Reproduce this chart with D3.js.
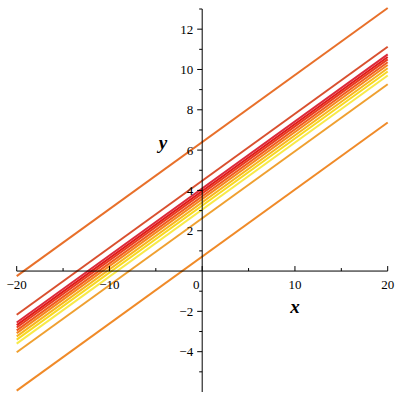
<!DOCTYPE html>
<html><head><meta charset="utf-8">
<script src="https://cdn.jsdelivr.net/npm/d3@7"></script>
<style>body{margin:0;background:#fff}svg{display:block}</style>
</head><body>
<svg id="c" width="400" height="400"></svg>
<script>
const intercepts = [6.4, 4.48, 4.1, 3.97, 3.85, 3.71, 3.57, 3.41, 3.25, 3.05, 2.62, 0.72];
const slopes = [0.3325, 0.3325, 0.3325, 0.3325, 0.3325, 0.3325, 0.3325, 0.3325, 0.3325, 0.3325, 0.3325, 0.3325];
const colors = ["#e8702a", "#d9502f", "#dc2a3a", "#e01a1a", "#e83a1e", "#f05a1e", "#f5851e", "#f8b41e", "#f8d820", "#f8ea48", "#f0a030", "#f08a28"];
const xDomain = [-20, 20];
const xMajor = [-20, -10, 0, 10, 20];
const xMinor = [-15, -5, 5, 15];
const yMajor = [-4, -2, 2, 4, 6, 8, 10, 12];
const yMinor = [-5, -3, -1, 1, 3, 5, 7, 9, 11, 13];

const svg = d3.select("#c");
const x = d3.scaleLinear().domain(xDomain).range([16.7, 387.7]);
const y = d3.scaleLinear().domain([-6, 13]).range([392, 9]);

const lines = intercepts.map((c, i) => ({c, m: slopes[i], color: colors[i]}));
const line = d3.line().x(d => x(d[0])).y(d => y(d[1]));
svg.append("g").selectAll("path").data(lines).join("path")
  .attr("d", d => line(xDomain.map(v => [v, d.m * v + d.c])))
  .attr("fill", "none").attr("stroke", d => d.color).attr("stroke-width", 2);

const ax = svg.append("g").attr("stroke", "#000").attr("stroke-width", 1);
// x axis
ax.append("line").attr("x1", x(-20)).attr("x2", x(20)).attr("y1", y(0)).attr("y2", y(0));
ax.selectAll(".xt").data(xMajor).join("line")
  .attr("x1", d => x(d)).attr("x2", d => x(d)).attr("y1", y(0)).attr("y2", y(0) - 5);
ax.selectAll(".xm").data(xMinor).join("line")
  .attr("x1", d => x(d)).attr("x2", d => x(d)).attr("y1", y(0)).attr("y2", y(0) - 3);
// y axis
ax.append("line").attr("x1", x(0)).attr("x2", x(0)).attr("y1", y(-6)).attr("y2", y(13));
ax.selectAll(".yt").data(yMajor).join("line")
  .attr("x1", x(0)).attr("x2", x(0) - 5).attr("y1", d => y(d)).attr("y2", d => y(d));
ax.selectAll(".ym").data(yMinor).join("line")
  .attr("x1", x(0)).attr("x2", x(0) - 3).attr("y1", d => y(d)).attr("y2", d => y(d));

const fmt = v => (v < 0 ? "\u2212" + Math.abs(v) : String(v));
const tg = svg.append("g").attr("font-family", "'Liberation Serif', 'Times New Roman', serif").attr("font-size", 13).attr("fill", "#000");
tg.selectAll(".xl").data(xMajor).join("text")
  .attr("x", d => d === 0 ? x(d) - 6 : x(d)).attr("y", y(0) + 18)
  .attr("text-anchor", "middle").text(fmt);
tg.selectAll(".yl").data(yMajor).join("text")
  .attr("x", x(0) - 9).attr("y", d => y(d) + 4.5)
  .attr("text-anchor", "end").text(fmt);

const lg = svg.append("g").attr("font-family", "'Liberation Serif', 'Times New Roman', serif")
  .attr("font-size", 19).attr("font-weight", "bold").attr("font-style", "italic");
lg.append("text").attr("x", 295).attr("y", 313).attr("text-anchor", "middle").text("x");
lg.append("text").attr("x", 163).attr("y", 149).attr("text-anchor", "middle").text("y");
</script>
</body></html>
